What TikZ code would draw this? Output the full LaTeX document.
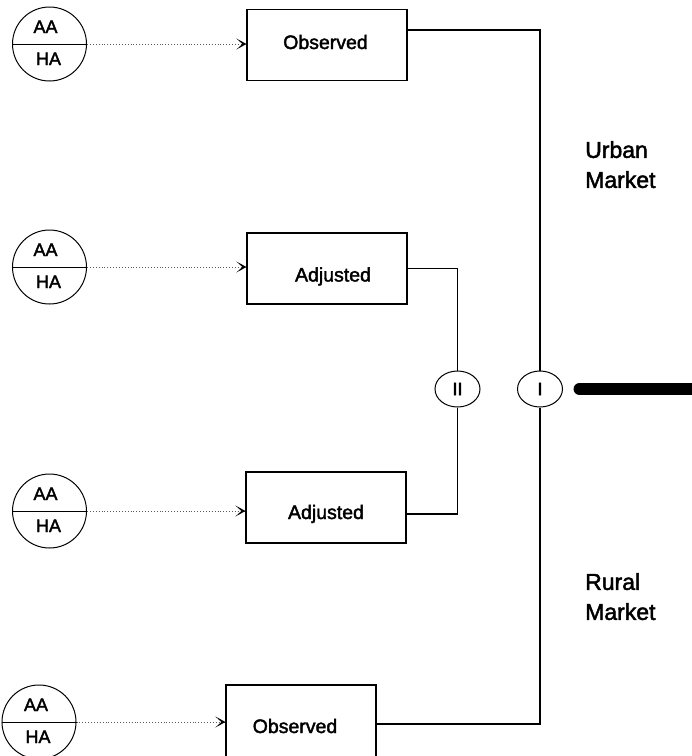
\documentclass[tikz,border=0pt]{standalone}
\usepackage{fontspec}
\setmainfont{Liberation Sans}[FakeBold=2]
\usetikzlibrary{arrows.meta,shapes.geometric}
\begin{document}
\begin{tikzpicture}[x=1pt,y=-1pt,
  box/.style={draw, line width=1.2pt, minimum width=160pt, minimum height=71pt, inner sep=0pt},
  boxtext/.style={font=\fontsize{19.5}{22}\selectfont, inner sep=0pt, text height=14pt, text depth=0pt},
  ring/.style={draw, circle, line width=1pt, minimum size=74pt, inner sep=0pt},
  ringtext/.style={font=\fontsize{18}{20}\selectfont, inner sep=0pt, anchor=base},
  oval/.style={draw, ellipse, line width=1pt, minimum width=45pt, minimum height=36pt, inner sep=0pt, font=\fontsize{18}{20}\selectfont},
  feed/.style={dotted, line width=0.9pt, draw=black!65},
  feedtip/.style={solid, line width=0.9pt, draw=black, -{Stealth[length=10pt,width=11pt,inset=6pt]}},
  wire/.style={line width=1.1pt},
  market/.style={font=\fontsize{23}{30}\selectfont, align=left, inner sep=0pt, anchor=north west}
]
\useasboundingbox (0,0) rectangle (692,756);
\clip (0,0) rectangle (692,756);

% source circles
\node[ring] (c1) at (49.5,44) {};
\node[ring] (c2) at (49.5,267) {};
\node[ring] (c3) at (49.5,511) {};
\node[ring] (c4) at (39,722) {};
\foreach \c in {c1,c2,c3,c4}{\draw[line width=1pt] (\c.west) -- (\c.east);}
\node[ringtext] (a1) at ([xshift=-4pt,yshift=11pt]c1.center) {AA};
\node[ringtext] (h1) at ([xshift=-1pt,yshift=-21pt]c1.center) {HA};
\node[ringtext] (a2) at ([xshift=-4pt,yshift=11pt]c2.center) {AA};
\node[ringtext] (h2) at ([xshift=-1pt,yshift=-21pt]c2.center) {HA};
\node[ringtext] (a3) at ([xshift=-4pt,yshift=11pt]c3.center) {AA};
\node[ringtext] (h3) at ([xshift=-1pt,yshift=-21pt]c3.center) {HA};
\node[ringtext] (a4) at ([xshift=-3pt,yshift=11pt]c4.center) {AA};
\node[ringtext] (h4) at ([xshift=-1pt,yshift=-21pt]c4.center) {HA};

% boxes
\node[box] (b1) at (327,45) {};
\node[box] (b2) at (327,268.5) {};
\node[box] (b3) at (326,507.5) {};
\node[box, minimum width=150pt, minimum height=82pt] (b4) at (301,726) {};
\node[boxtext] (t1) at (325.5,42) {Observed};
\node[boxtext] (t2) at (333,274.5) {Adjusted};
\node[boxtext] (t3) at (326,512) {Adjusted};
\node[boxtext] (t4) at (295,726) {Observed};

% feeds: dotted line with a solid arrow head at the box
\foreach \c/\b in {c1/b1,c2/b2,c3/b3,c4/b4}{
  \draw[feed] (\c.east) -- (\c.east -| \b.west);
  \draw[feedtip] ([xshift=-3pt]\c.east -| \b.west) -- (\c.east -| \b.west);
}

% aggregation nodes
\node[oval] (II) at (457.5,389) {II};
\node[oval] (I) at (540,389) {I};
\coordinate (sink) at (710,389);

\draw[wire] ([yshift=15pt]b1.east) -| (I.north);
\draw[wire] ([yshift=2pt]b4.east) -| (I.south);
\draw[wire] (b2.east) -| (II.north);
\draw[wire] ([yshift=-6.5pt]b3.east) -| (II.south);
\draw[line width=12pt, line cap=round] ([xshift=16.5pt]I.east) -- (sink);

% market labels
\node[market] (urban) at (585,141) {Urban\\Market};
\node[market] (rural) at (585,573) {Rural\\Market};
\end{tikzpicture}
\end{document}
